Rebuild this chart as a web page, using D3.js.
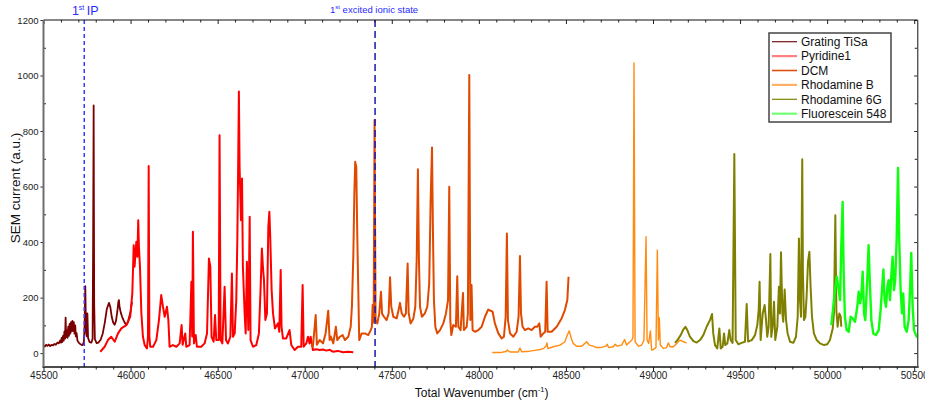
<!DOCTYPE html>
<html><head><meta charset="utf-8">
<script src="https://cdn.jsdelivr.net/npm/d3@7"></script>
<style>
body{margin:0;background:#fff;}
svg{display:block;font-family:"Liberation Sans",Arial,sans-serif;}
</style></head><body>
<svg id="chart" width="925" height="407"></svg>
<script>
const xTicks = [45500, 46000, 46500, 47000, 47500, 48000, 48500, 49000, 49500, 50000, 50500];
const yTicks = [0, 200, 400, 600, 800, 1000, 1200];
const seriesNames = ["Grating TiSa", "Pyridine1", "DCM", "Rhodamine B", "Rhodamine 6G", "Fluorescein 548"];
const ipPosition = 45734;
const excitedPosition = 47404;

const gratingTiSa = [[45500,28],[45508,24],[45515,30],[45522,26],[45530,31],[45538,25],[45546,30],[45555,28],[45563,33],[45571,30],[45580,38],[45588,35],[45595,45],[45600,38],[45604,55],[45608,40],[45612,62],[45616,45],[45620,78],[45624,52],[45627,128],[45630,58],[45634,82],[45638,55],[45642,95],[45646,62],[45650,105],[45654,70],[45658,112],[45662,78],[45666,116],[45670,80],[45674,112],[45678,70],[45682,100],[45686,60],[45690,72],[45695,45],[45702,38],[45710,33],[45718,30],[45725,29],[45732,42],[45736,100],[45740,241],[45744,80],[45748,60],[45752,143],[45756,55],[45764,40],[45775,38],[45782,52],[45785,400],[45788,892],[45791,180],[45795,50],[45805,36],[45815,38],[45828,48],[45840,70],[45852,110],[45864,160],[45876,181],[45884,165],[45892,130],[45900,110],[45908,102],[45916,115],[45924,150],[45930,185],[45933,191],[45937,165],[45944,145],[45952,130],[45960,118],[45968,108],[45976,102],[45984,110],[45992,130],[46000,150],[46008,185]];

const pyridine1 = [[45826,5],[45851,23],[45870,47],[45889,59],[45909,41],[45928,71],[45947,89],[45976,101],[45998,131],[46010,215],[46018,389],[46023,311],[46033,401],[46039,347],[46044,479],[46048,383],[46054,311],[46062,143],[46071,59],[46081,29],[46094,17],[46100,60],[46104,674],[46108,60],[46113,23],[46129,23],[46148,47],[46163,119],[46176,209],[46186,167],[46196,131],[46209,167],[46217,119],[46224,23],[46243,29],[46263,23],[46282,35],[46293,101],[46299,30],[46314,71],[46320,23],[46339,29],[46349,257],[46354,60],[46358,437],[46364,35],[46374,65],[46381,23],[46406,23],[46425,35],[46439,71],[46450,341],[46458,311],[46465,59],[46477,41],[46485,137],[46492,47],[46506,47],[46511,785],[46517,47],[46527,35],[46540,239],[46548,47],[46559,35],[46573,59],[46582,287],[46588,59],[46598,71],[46607,191],[46613,407],[46617,623],[46622,942],[46626,671],[46634,479],[46640,629],[46645,311],[46655,143],[46661,71],[46668,329],[46676,83],[46684,491],[46689,47],[46703,23],[46722,29],[46737,71],[46747,239],[46754,377],[46760,311],[46766,263],[46774,119],[46783,143],[46791,455],[46797,509],[46802,419],[46810,227],[46818,143],[46829,89],[46846,107],[46854,77],[46862,299],[46867,95],[46875,53],[46894,53],[46913,83],[46923,29],[46942,11],[46961,23],[46980,23],[46988,245],[46994,23],[47009,35],[47019,59],[47028,35],[47034,59],[47047,11],[47066,14],[47086,11],[47105,13],[47124,9],[47143,12],[47162,5],[47190,8],[47220,3],[47250,5],[47279,3]];

const dcm = [[47040,35],[47047,23],[47063,137],[47070,30],[47086,47],[47105,35],[47120,71],[47135,153],[47143,47],[47150,60],[47164,35],[47179,95],[47187,47],[47202,59],[47218,65],[47231,47],[47250,59],[47264,95],[47271,167],[47279,347],[47285,575],[47290,689],[47296,671],[47302,419],[47308,215],[47313,47],[47327,71],[47346,71],[47365,65],[47379,83],[47386,95],[47390,173],[47396,110],[47401,840],[47407,119],[47417,107],[47428,143],[47438,221],[47444,143],[47455,131],[47470,119],[47482,143],[47490,273],[47497,167],[47509,131],[47528,125],[47539,155],[47547,181],[47557,143],[47570,131],[47581,143],[47591,323],[47597,143],[47608,107],[47624,125],[47635,167],[47643,335],[47650,662],[47656,335],[47662,167],[47673,131],[47690,143],[47704,167],[47715,251],[47723,551],[47731,741],[47736,455],[47742,191],[47750,95],[47761,71],[47777,83],[47796,107],[47811,143],[47823,191],[47830,599],[47836,119],[47842,65],[47853,101],[47868,95],[47876,277],[47882,95],[47895,83],[47909,217],[47914,83],[47930,95],[47937,143],[47945,1002],[47951,119],[47958,245],[47964,83],[47978,77],[47997,83],[48016,95],[48035,131],[48054,157],[48079,149],[48092,107],[48112,71],[48131,53],[48144,59],[48154,131],[48161,431],[48167,119],[48179,71],[48198,59],[48217,77],[48228,131],[48236,350],[48242,143],[48251,95],[48265,83],[48284,89],[48303,83],[48322,95],[48335,95],[48347,107],[48355,59],[48370,71],[48381,77],[48389,257],[48395,77],[48418,77],[48447,95],[48475,125],[48494,155],[48508,191],[48515,275]];

const rhodamineB = [[48077,2],[48121,2],[48156,6],[48163,11],[48179,4],[48226,4],[48236,18],[48246,5],[48293,7],[48332,11],[48351,13],[48370,16],[48385,25],[48391,37],[48397,16],[48427,23],[48466,29],[48494,41],[48508,65],[48519,80],[48531,53],[48542,35],[48561,25],[48590,25],[48609,35],[48619,41],[48634,29],[48657,25],[48676,20],[48699,20],[48730,25],[48737,32],[48745,20],[48772,23],[48783,32],[48795,25],[48820,29],[48837,49],[48848,29],[48868,41],[48879,47],[48885,59],[48891,1045],[48897,41],[48916,25],[48935,29],[48948,47],[48960,419],[48966,47],[48975,35],[48985,80],[48992,11],[49002,13],[49017,20],[49025,371],[49031,47],[49036,128],[49042,29],[49059,17],[49078,20],[49088,37],[49098,23],[49117,23],[49136,35],[49155,47],[49174,41],[49193,37]];

const rhodamine6G = [[49126,37],[49140,47],[49159,65],[49174,85],[49186,95],[49197,83],[49212,59],[49232,43],[49251,38],[49270,47],[49289,65],[49308,95],[49327,119],[49339,141],[49346,71],[49356,29],[49369,17],[49381,89],[49389,17],[49400,23],[49408,71],[49415,29],[49427,35],[49438,83],[49446,47],[49457,37],[49467,717],[49475,47],[49490,32],[49509,37],[49528,41],[49538,177],[49546,42],[49567,47],[49586,65],[49599,101],[49607,157],[49612,257],[49618,47],[49630,143],[49641,173],[49649,119],[49656,59],[49664,95],[49674,357],[49679,59],[49687,95],[49695,185],[49702,47],[49714,95],[49723,239],[49729,143],[49735,363],[49743,143],[49748,113],[49756,229],[49764,119],[49773,71],[49787,41],[49806,37],[49821,59],[49831,131],[49838,413],[49844,191],[49850,131],[49857,698],[49861,287],[49867,119],[49875,131],[49882,203],[49890,329],[49898,365],[49905,239],[49913,131],[49924,71],[49940,47],[49959,35],[49982,29],[50001,32],[50016,47],[50032,89],[50039,143],[50047,497],[50053,155],[50060,95],[50070,143],[50078,131],[50081,95]];

const fluorescein548 = [[50024,101],[50035,167],[50045,227],[50055,275],[50064,239],[50074,191],[50081,383],[50089,545],[50095,287],[50102,131],[50112,83],[50124,77],[50135,131],[50146,125],[50160,113],[50173,167],[50181,221],[50189,179],[50196,203],[50204,293],[50212,143],[50219,119],[50231,275],[50238,389],[50246,239],[50254,119],[50265,71],[50280,65],[50296,83],[50307,155],[50315,227],[50323,301],[50330,191],[50338,167],[50346,239],[50353,263],[50361,191],[50368,275],[50376,347],[50384,227],[50391,263],[50399,407],[50407,667],[50414,407],[50422,227],[50430,143],[50437,215],[50445,95],[50457,77],[50468,119],[50476,227],[50483,361],[50491,167],[50499,83],[50510,65],[50518,56]];

const seriesData = [gratingTiSa, pyridine1, dcm, rhodamineB, rhodamine6G, fluorescein548];
const seriesColors = ["#7a0000", "#ff0000", "#e04a00", "#ff8c10", "#808000", "#10ff10"];
const seriesWidths = [1.8, 2.0, 2.0, 1.4, 2.0, 2.4];
const legendColors = ["#7a1010", "#ff8080", "#e05010", "#ffb068", "#808000", "#70ff70"];
const legendWidths = [1.2, 2.2, 1.6, 2.2, 1.2, 2.2];

const svg = d3.select("#chart");
const L = 43.5, R = 917.7, T = 20, B = 367;
const x = d3.scaleLinear().domain([45500, 50520]).range([L, R]);
const y = d3.scaleLinear().domain([-50, 1200]).range([B, T]);

svg.append("defs").append("clipPath").attr("id", "clip")
  .append("rect").attr("x", L).attr("y", T).attr("width", R - L).attr("height", B - T);

// series
const line = d3.line().x(d => x(d[0])).y(d => y(d[1]));
const g = svg.append("g").attr("clip-path", "url(#clip)");
seriesData.forEach((data, i) => {
  g.append("path").datum(data).attr("d", line)
    .attr("fill", "none").attr("stroke", seriesColors[i])
    .attr("stroke-width", seriesWidths[i]).attr("stroke-linejoin", "round");
});

// vertical reference lines
svg.append("line").attr("x1", x(ipPosition)).attr("x2", x(ipPosition)).attr("y1", T).attr("y2", B)
  .attr("stroke", "#3a3aff").attr("stroke-width", 1.5).attr("stroke-dasharray", "4,3");
svg.append("line").attr("x1", x(excitedPosition)).attr("x2", x(excitedPosition)).attr("y1", T).attr("y2", B)
  .attr("stroke", "#1818b0").attr("stroke-width", 1.5).attr("stroke-dasharray", "7,4");

// annotations
const t1 = svg.append("text").attr("x", x(ipPosition) + 1).attr("y", 15).attr("text-anchor", "middle")
  .attr("fill", "#2a2aff").attr("font-size", 12.5);
t1.append("tspan").text("1");
t1.append("tspan").attr("font-size", 7).attr("dy", -5).text("st");
t1.append("tspan").attr("dy", 5).text("\u2009IP");
const t2 = svg.append("text").attr("x", x(excitedPosition) - 1).attr("y", 13).attr("text-anchor", "middle")
  .attr("fill", "#2a2aff").attr("font-size", 9.5);
t2.append("tspan").text("1");
t2.append("tspan").attr("font-size", 6).attr("dy", -4).text("st");
t2.append("tspan").attr("dy", 4).text(" excited ionic state");

// axes
const xMinor = d3.range(45500, 50521, 100).filter(v => v % 500 !== 0);
const yMinor = d3.range(-100, 1201, 100).filter(v => v % 200 !== 0 && v >= -50);

function styleAxis(sel) {
  sel.select(".domain").remove();
  sel.selectAll("line").attr("stroke", "#222").attr("stroke-width", 1);
  sel.selectAll("text").attr("fill", "#222").attr("font-family", "Liberation Sans, Arial, sans-serif");
}
// bottom
svg.append("g").attr("transform", `translate(0,${B})`)
  .call(d3.axisBottom(x).tickValues(xTicks).tickSize(4).tickPadding(1).tickFormat(d3.format("d")))
  .call(styleAxis).call(s => s.selectAll("text").attr("font-size", 10));
svg.append("g").attr("transform", `translate(0,${B})`)
  .call(d3.axisBottom(x).tickValues(xMinor).tickSize(2.5).tickFormat(""))
  .call(styleAxis);
// top (inward)
svg.append("g").attr("transform", `translate(0,${T})`)
  .call(d3.axisBottom(x).tickValues(xTicks).tickSize(4).tickFormat(""))
  .call(styleAxis);
svg.append("g").attr("transform", `translate(0,${T})`)
  .call(d3.axisBottom(x).tickValues(xMinor).tickSize(2.5).tickFormat(""))
  .call(styleAxis);
// left
svg.append("g").attr("transform", `translate(${L},0)`)
  .call(d3.axisLeft(y).tickValues(yTicks).tickSize(3).tickPadding(2).tickFormat(d3.format("d")))
  .call(styleAxis).call(s => s.selectAll("text").attr("font-size", 9.5));
svg.append("g").attr("transform", `translate(${L},0)`)
  .call(d3.axisRight(y).tickValues(yMinor).tickSize(2.5).tickFormat(""))
  .call(styleAxis);
// right (inward)
svg.append("g").attr("transform", `translate(${R},0)`)
  .call(d3.axisLeft(y).tickValues(yTicks).tickSize(3.5).tickFormat(""))
  .call(styleAxis);
svg.append("g").attr("transform", `translate(${R},0)`)
  .call(d3.axisLeft(y).tickValues(yMinor).tickSize(3).tickFormat(""))
  .call(styleAxis);

// frame
svg.append("line").attr("x1", L).attr("x2", R).attr("y1", T).attr("y2", T).attr("stroke", "#111").attr("stroke-width", 1.2);
svg.append("line").attr("x1", L - 1).attr("x2", R + 1).attr("y1", B).attr("y2", B).attr("stroke", "#111").attr("stroke-width", 1.6);
svg.append("line").attr("x1", L).attr("x2", L).attr("y1", T).attr("y2", B).attr("stroke", "#6e6e6e").attr("stroke-width", 2);
svg.append("line").attr("x1", R).attr("x2", R).attr("y1", T).attr("y2", B).attr("stroke", "#555").attr("stroke-width", 1.4);

// axis titles
const xt = svg.append("text").attr("x", (L + R) / 2 + 1).attr("y", 397).attr("text-anchor", "middle")
  .attr("font-size", 12).attr("fill", "#111");
xt.append("tspan").text("Total Wavenumber (cm");
xt.append("tspan").attr("font-size", 7.5).attr("dy", -5).text("-1");
xt.append("tspan").attr("dy", 5).text(")");
svg.append("text").attr("transform", "translate(20,188) rotate(-90)").attr("text-anchor", "middle")
  .attr("font-size", 13.5).attr("fill", "#111").text("SEM current (a.u.)");

// legend
const lg = svg.append("g");
lg.append("rect").attr("x", 769).attr("y", 33).attr("width", 122).attr("height", 89)
  .attr("fill", "#fff").attr("stroke", "#444").attr("stroke-width", 1.5);
seriesNames.forEach((name, i) => {
  const cy = 41.7 + i * 14.4;
  lg.append("line").attr("x1", 772).attr("x2", 797).attr("y1", cy).attr("y2", cy)
    .attr("stroke", legendColors[i]).attr("stroke-width", legendWidths[i]);
  lg.append("text").attr("x", 801).attr("y", cy + 4.3).attr("font-size", 12).attr("fill", "#111").text(name);
});
</script>
</body></html>
